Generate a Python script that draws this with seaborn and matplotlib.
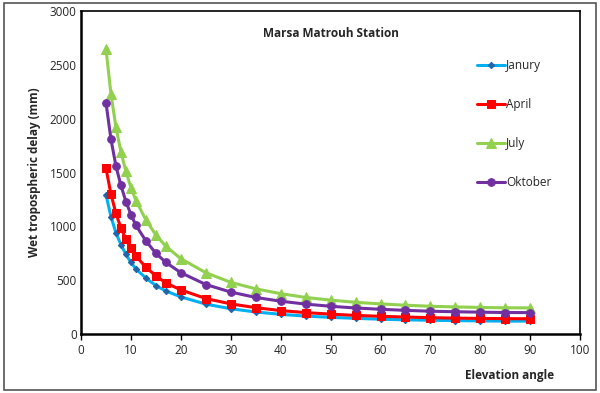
import pandas as pd
import matplotlib
matplotlib.use('Agg')
import matplotlib.pyplot as plt
from matplotlib.patches import Rectangle
import seaborn as sns

# Elevation angles (deg) and wet tropospheric delay (mm) per month
angles = [5, 6, 7, 8, 9, 10, 11, 13, 15, 17, 20, 25, 30, 35, 40, 45, 50, 55, 60, 65, 70, 75, 80, 85, 90]
january = [1295, 1090, 940, 830, 740, 665, 605, 520, 450, 400, 345, 278, 235, 205, 183, 167, 155, 146, 138, 132, 128, 125, 122, 120, 120]
april = [1540, 1300, 1120, 985, 880, 795, 725, 620, 540, 475, 410, 330, 280, 245, 218, 199, 185, 173, 165, 158, 152, 148, 145, 143, 142]
july = [2650, 2230, 1920, 1690, 1510, 1360, 1240, 1060, 920, 815, 700, 570, 480, 420, 375, 340, 315, 295, 280, 268, 258, 252, 247, 244, 243]
oktober = [2150, 1810, 1560, 1380, 1230, 1110, 1010, 865, 750, 665, 570, 460, 390, 340, 305, 278, 258, 242, 230, 220, 212, 207, 203, 200, 199]

months = ['Janury', 'April', 'July', 'Oktober']
series = [january, april, july, oktober]

frames = []
for name, vals in zip(months, series):
    frames.append(pd.DataFrame({'angle': angles, 'delay': vals, 'month': name}))
df = pd.concat(frames, ignore_index=True)

sns.set_style('white')
plt.rcParams['font.family'] = ['Open Sans', 'DejaVu Sans']

fig = plt.figure(figsize=(6, 3.93), dpi=100)
ax = fig.add_axes([0.135, 0.150, 0.832, 0.822])

line_colors = {'Janury': '#00B0F0', 'April': '#FF0000', 'July': '#92D050', 'Oktober': '#7030A0'}
marker_colors = {'Janury': '#2266AA', 'April': '#FF0000', 'July': '#92D050', 'Oktober': '#7030A0'}
markers = {'Janury': 'D', 'April': 's', 'July': '^', 'Oktober': 'o'}
msizes = {'Janury': 3.2, 'April': 5.5, 'July': 6.5, 'Oktober': 5.5}

for name in months:
    sub = df[df['month'] == name]
    sns.lineplot(data=sub, x='angle', y='delay', ax=ax, color=line_colors[name],
                 linewidth=2.2, marker=markers[name], markersize=msizes[name],
                 markerfacecolor=marker_colors[name], markeredgecolor=marker_colors[name],
                 label=name)

ax.set_xlim(0, 100)
ax.set_ylim(0, 3000)
ax.set_xticks(range(0, 101, 10))
ax.set_yticks(range(0, 3001, 500))
ax.tick_params(axis='both', labelsize=8.5, length=0, pad=3)
ax.tick_params(axis='x', length=4, width=1, direction='out', color='black', bottom=True)

for side in ['left', 'bottom']:
    ax.spines[side].set_linewidth(1.8)
    ax.spines[side].set_color('black')
for side in ['top', 'right']:
    ax.spines[side].set_linewidth(1.2)
    ax.spines[side].set_color('black')

ax.set_xlabel('')
ax.set_ylabel('Wet tropospheric delay (mm)', fontsize=8.5, fontweight='bold', labelpad=6)
fig.text(0.85, 0.045, 'Elevation angle', fontsize=8.5, fontweight='bold', ha='center', va='center')
ax.text(0.5, 0.93, 'Marsa Matrouh Station', transform=ax.transAxes, fontsize=8.5,
        fontweight='bold', ha='center', va='center')

leg = ax.legend(loc='upper left', bbox_to_anchor=(0.783, 0.866), frameon=False, fontsize=8.5,
                labelspacing=2.2, handlelength=2.4, handletextpad=0.1, borderaxespad=0)

fig.patches.append(Rectangle((0.006, 0.008), 0.988, 0.984, transform=fig.transFigure,
                             fill=False, edgecolor='#555555', linewidth=1.2))

fig.savefig('out.png', dpi=100)
